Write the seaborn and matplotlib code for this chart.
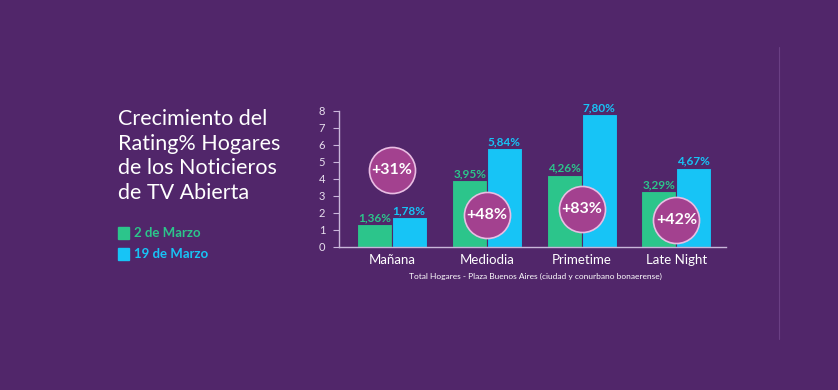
import pandas as pd
import matplotlib
matplotlib.use('Agg')
import matplotlib.pyplot as plt
import seaborn as sns

# ── data ──
franjas = ['Mañana', 'Mediodia', 'Primetime', 'Late Night']
marzo_2 = [1.36, 3.95, 4.26, 3.29]
marzo_19 = [1.78, 5.84, 7.80, 4.67]
crecimiento = ['+31%', '+48%', '+83%', '+42%']
circulo_y = [4.55, 1.88, 2.22, 1.6]   # where each badge sits

BG = '#51266a'
GREEN = '#2cc58b'
BLUE = '#17c4f6'
AXIS = '#c9b6da'

sns.set_theme(style='white')
plt.rcParams['font.family'] = ['Lato', 'DejaVu Sans']

df = pd.DataFrame({'franja': franjas * 2,
                   'rating': marzo_2 + marzo_19,
                   'fecha': ['2 de Marzo'] * 4 + ['19 de Marzo'] * 4})

fig = plt.figure(figsize=(8.38, 3.9), dpi=100, facecolor=BG)
ax = fig.add_axes([0.4045, 0.3667, 0.4615, 0.3487])
ax.set_facecolor(BG)

sns.barplot(data=df, x='franja', y='rating', hue='fecha',
            palette=[GREEN, BLUE], width=0.74, ax=ax, legend=False,
            edgecolor=BG, linewidth=0.8, saturation=1)

ax.set_ylim(0, 8)
ax.set_xlim(-0.56, 3.52)
ax.set_yticks(range(9))
ax.set_xlabel('')
ax.set_ylabel('')
for s in ['top', 'right']:
    ax.spines[s].set_visible(False)
for s in ['left', 'bottom']:
    ax.spines[s].set_color(AXIS)
    ax.spines[s].set_linewidth(1.0)
ax.tick_params(axis='y', colors='#e8e0ee', labelsize=8, length=4, width=0.8,
               left=True, pad=6)
ax.tick_params(axis='y', which='both', color=AXIS)
ax.tick_params(axis='x', colors='white', labelsize=9.5, length=0, pad=5)

# value labels
for i in range(len(franjas)):
    ax.text(i - 0.18, marzo_2[i] + 0.05, f'{marzo_2[i]:.2f}%'.replace('.', ','),
            ha='center', va='bottom', color=GREEN, fontsize=8.5, fontweight='bold')
    ax.text(i + 0.18, marzo_19[i] + 0.05, f'{marzo_19[i]:.2f}%'.replace('.', ','),
            ha='center', va='bottom', color=BLUE, fontsize=8.5, fontweight='bold')

# growth badges
ax.scatter(range(len(franjas)), circulo_y, s=1100, color='#a3418f',
           edgecolor='#e9bde3', linewidth=1.2, zorder=5, clip_on=False)
for i, txt in enumerate(crecimiento):
    ax.text(i, circulo_y[i], txt, ha='center', va='center', color='white',
            fontsize=11.5, fontweight='bold', zorder=6)

# caption
fig.text(0.639, 0.29, 'Total Hogares - Plaza Buenos Aires (ciudad y conurbano bonaerense)',
         ha='center', va='center', color='white', fontsize=6)

# title block
fig.text(0.141, 0.72, 'Crecimiento del\nRating% Hogares\nde los Noticieros\nde TV Abierta',
         ha='left', va='top', color='white', fontsize=15.5, fontweight='normal',
         linespacing=1.28)

# legend
for yy, col, lab in [(0.402, GREEN, '2 de Marzo'), (0.348, BLUE, '19 de Marzo')]:
    fig.patches.append(matplotlib.patches.Rectangle(
        (0.141, yy - 0.015), 0.013, 0.03, transform=fig.transFigure,
        color=col, figure=fig))
    fig.text(0.160, yy, lab, ha='left', va='center', color=col,
             fontsize=9.5, fontweight='bold')

# faint divider on the right
fig.add_artist(matplotlib.lines.Line2D([0.9295, 0.9295], [0.13, 0.88],
                                       color='#6a3f84', linewidth=0.8))

plt.savefig('out.png', dpi=100, facecolor=BG)
